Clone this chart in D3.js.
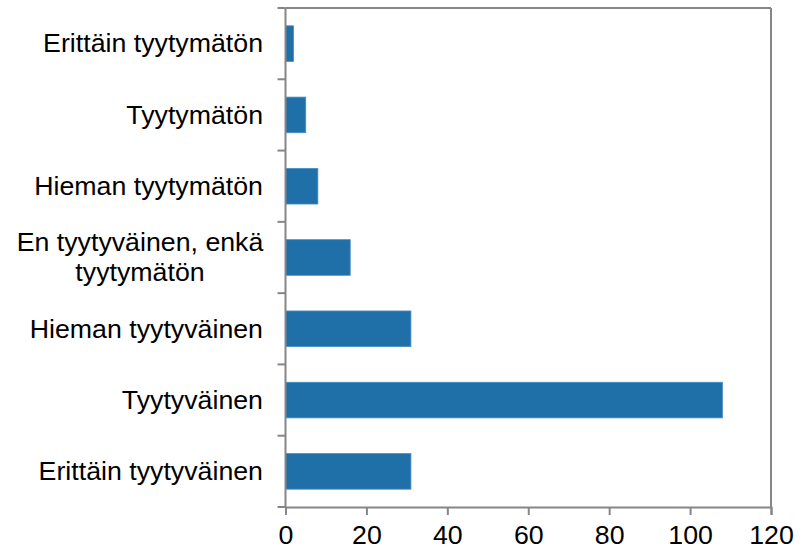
<!DOCTYPE html>
<html>
<head>
    <meta charset="utf-8">
    <title>Tyytyväisyys</title>
    <style>
        body { margin: 0; padding: 0; background: #ffffff; }
        svg text { font-family: "Liberation Sans", Arial, sans-serif; fill: #000; }
    </style>
</head>
<body>
    <div id="container"></div>
    <script src="https://d3js.org/d3.v7.min.js"></script>
    <script>
        var categories = ["Erittäin tyytymätön", "Tyytymätön", "Hieman tyytymätön",
            "En tyytyväinen, enkä tyytymätön", "Hieman tyytyväinen", "Tyytyväinen", "Erittäin tyytyväinen"];
        var values = [2, 5, 8, 16, 31, 108, 31];
        var xTicks = [0, 20, 40, 60, 80, 100, 120];

        var width = 811, height = 550;
        var margin = { top: 8, right: 40, bottom: 43, left: 285.5 };
        var plotW = width - margin.left - margin.right;
        var plotH = height - margin.top - margin.bottom;
        var axisColor = "#868686";
        var fontSize = "25px";
        var stretch = "scale(1.07,1)";   // reference glyphs are a bit wider than Liberation Sans

        var svg = d3.select("#container").append("svg")
            .attr("width", width)
            .attr("height", height);

        var g = svg.append("g")
            .attr("transform", "translate(" + margin.left + "," + margin.top + ")");

        var x = d3.scaleLinear().domain([0, 120]).range([0, plotW]);
        var y = d3.scaleBand().domain(categories).range([0, plotH]).paddingInner(0.5).paddingOuter(0.25);
        var yb = d3.scaleLinear().domain([0, categories.length]).range([0, plotH]);

        // frame: top and right
        g.append("line").attr("x1", 0).attr("x2", plotW).attr("y1", 0).attr("y2", 0)
            .attr("stroke", axisColor).attr("stroke-width", 2);
        g.append("line").attr("x1", plotW).attr("x2", plotW).attr("y1", 0).attr("y2", plotH)
            .attr("stroke", axisColor).attr("stroke-width", 2);

        // bars
        g.selectAll("rect.bar").data(categories).enter().append("rect")
            .attr("class", "bar")
            .attr("x", x(0))
            .attr("y", function (d) { return y(d); })
            .attr("width", function (d, i) { return x(values[i]) - x(0); })
            .attr("height", y.bandwidth())
            .style("fill", "#1f6fa8")
            .style("stroke", "#4a8fc2")
            .style("stroke-width", 0.8);

        // x axis
        var xAxis = g.append("g").attr("transform", "translate(0," + plotH + ")")
            .call(d3.axisBottom(x).tickValues(xTicks).tickSize(8));
        xAxis.select(".domain").attr("stroke", axisColor).attr("stroke-width", 2);
        xAxis.selectAll(".tick line").attr("stroke", axisColor).attr("stroke-width", 2);
        xAxis.selectAll(".tick text")
            .attr("y", 37).attr("dy", 0)
            .attr("transform", stretch)
            .style("font-size", fontSize).attr("fill", "#000")
            .style("font-family", "'Liberation Sans', Arial, sans-serif");

        // y axis: ticks at category boundaries
        g.append("line").attr("x1", 0).attr("x2", 0).attr("y1", 0).attr("y2", plotH)
            .attr("stroke", axisColor).attr("stroke-width", 2);
        g.selectAll("line.ytick").data(d3.range(categories.length + 1)).enter().append("line")
            .attr("class", "ytick")
            .attr("x1", -8).attr("x2", 0)
            .attr("y1", function (d) { return yb(d); })
            .attr("y2", function (d) { return yb(d); })
            .attr("stroke", axisColor).attr("stroke-width", 2);

        // category labels
        var labelLines = {
            "En tyytyväinen, enkä tyytymätön": ["En tyytyväinen, enkä", "tyytymätön"]
        };
        var labels = g.selectAll("text.cat").data(categories).enter().append("text")
            .attr("class", "cat")
            .style("font-size", fontSize)
            .attr("text-anchor", function (d) { return labelLines[d] ? "middle" : "end"; })
            .attr("transform", function (d) {
                var ax = labelLines[d] ? -145.5 : -22.5;
                return "translate(" + ax + "," + (y(d) + y.bandwidth() / 2) + ") " + stretch;
            });
        labels.each(function (d) {
            var lines = labelLines[d] || [d];
            var t = d3.select(this);
            var lh = 30;
            lines.forEach(function (s, k) {
                t.append("tspan")
                    .attr("x", 0)
                    .attr("y", (k - (lines.length - 1) / 2) * lh)
                    .attr("dy", "0.35em")
                    .text(s);
            });
        });
    </script>
</body>
</html>
